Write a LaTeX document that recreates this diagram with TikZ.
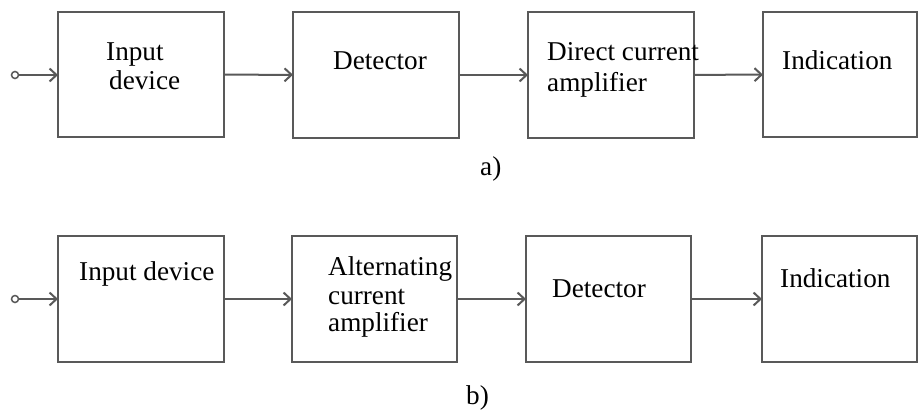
\documentclass[tikz,border=0pt]{standalone}
\usepackage{fontspec}
\setmainfont{Liberation Serif}
\usetikzlibrary{arrows.meta}
\begin{document}
\begin{tikzpicture}[x=1pt,y=-1pt,
  blk/.style={draw=black!65,line width=2pt,rectangle,inner sep=0pt,outer sep=0pt},
  conn/.style={draw=black!65,line width=2pt,-{Straight Barb[length=7pt,width=13pt,line width=2pt]}},
  lbl/.style={anchor=base west,inner sep=0pt,font=\fontsize{27.2}{29}\selectfont,text=black},
  term/.style={circle,draw=black!65,line width=1.5pt,minimum size=7pt,inner sep=0pt}]
\useasboundingbox (0,0) rectangle (918,412);
% row a
\node[blk,minimum width=166pt,minimum height=125pt] (a1) at (141,74.5) {};
\node[blk,minimum width=166pt,minimum height=125pt] (a2) at (376,75) {};
\node[blk,minimum width=166pt,minimum height=125pt] (a3) at (611,75) {};
\node[blk,minimum width=154pt,minimum height=125pt] (a4) at (840,74.5) {};
\node[term] (ain) at (15,75) {};
\draw[conn] (ain) -- (a1.west |- ain);
\draw[conn] (a1) -- (a2);
\draw[conn] (a2) -- (a3);
\draw[conn] (a3) -- (a4);
\node[lbl] (ta1) at (106,60) {Input};
\node[lbl] (ta1b) at (109,89) {device};
\node[lbl] (ta2) at (333,70) {Detector};
\node[lbl] (ta3) at (547,60) {Direct current};
\node[lbl] (ta3b) at (547,91) {amplifier};
\node[lbl] (ta4) at (782,70) {Indication};
\node[lbl] (capa) at (480,175) {a)};
% row b
\node[blk,minimum width=166pt,minimum height=126pt] (b1) at (141,299) {};
\node[blk,minimum width=165pt,minimum height=126pt] (b2) at (374.5,299) {};
\node[blk,minimum width=165pt,minimum height=126pt] (b3) at (608.5,299) {};
\node[blk,minimum width=155pt,minimum height=126pt] (b4) at (839.5,299) {};
\node[term] (bin) at (15,299) {};
\draw[conn] (bin) -- (b1.west |- bin);
\draw[conn] (b1) -- (b2);
\draw[conn] (b2) -- (b3);
\draw[conn] (b3) -- (b4);
\node[lbl] (tb1) at (79,280) {Input device};
\node[lbl] (tb2) at (328,275) {Alternating};
\node[lbl] (tb2b) at (328,304) {current};
\node[lbl] (tb2c) at (328,331) {amplifier};
\node[lbl] (tb3) at (552,297) {Detector};
\node[lbl] (tb4) at (780,287) {Indication};
\node[lbl] (capb) at (466,404) {b)};
\end{tikzpicture}
\end{document}
